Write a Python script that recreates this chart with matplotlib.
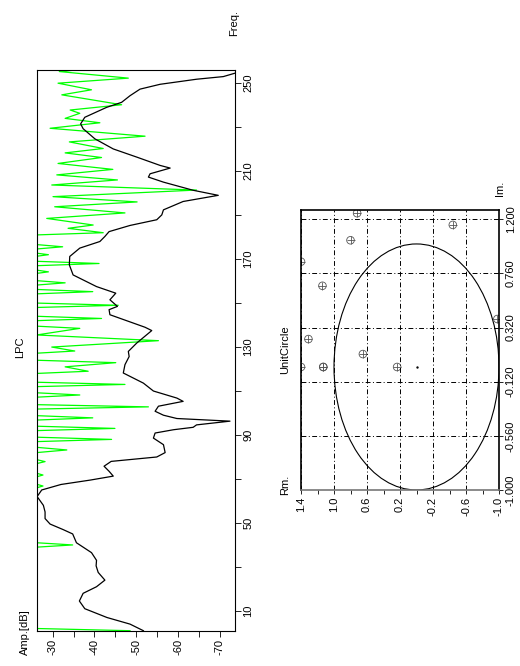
import matplotlib
matplotlib.use("Agg")
import matplotlib.pyplot as plt
from matplotlib.patches import Circle
import numpy as np

# LPC envelope (black)
lpc_freq = [1, 4, 7, 11, 14.5, 18, 21, 24, 27.5, 30.5, 33, 36.5, 41, 45, 47, 49.5, 52, 55, 58, 62,
            65, 67.5, 69.5, 71.3, 73.5, 75.8, 78, 80, 82, 85.6, 88.6, 90.9, 92.4, 93.5, 94.6, 96.3,
            97.5, 99, 100.8, 103.1, 105.3, 106.8, 110, 113.6, 118.2, 122, 125.7, 128, 131.8, 137.5,
            139, 144.7, 147, 148.5, 151.5, 154.5, 157.5, 162.8, 167.4, 171.2, 175, 178, 180.3, 182.5,
            185.3, 187.9, 190.1, 192.4, 196.2, 199, 201.3, 205, 207.3, 208.8, 211.4, 212.6, 216.4,
            220.1, 224.7, 229.3, 231.5, 234.5, 239, 241.3, 244.3, 247.3, 249.5, 251.8, 253, 254.5, 256]
lpc_amp = [-51.7, -48.5, -43, -37.7, -36.4, -37.3, -40.5, -42.5, -40.9, -40.4, -40.5, -39.3, -35.7,
           -34.8, -32.5, -29.4, -28.2, -28.2, -27.8, -26.3, -27.4, -32, -39, -44.5, -43.5, -42.3, -44,
           -54.9, -56.9, -56.5, -54.1, -54.5, -58.9, -63.6, -64.4, -72.4, -59.7, -56.5, -54.5, -55.3,
           -61.2, -59.7, -54.1, -51.7, -46.9, -47.3, -48.3, -48.1, -50.1, -53.7, -52.1, -43.7, -43.5,
           -45.5, -43.7, -45.1, -40.5, -34.9, -34, -34.1, -36.5, -41.3, -42.5, -43.5, -48.5, -54.9,
           -56.1, -56.5, -61.2, -69.6, -63.6, -56.5, -52.9, -53.3, -58.1, -55.7, -50.1, -44.5, -40.1,
           -37.3, -36.7, -37.7, -42.9, -46.5, -48.5, -50.9, -55.7, -64.4, -70.8, -73.5, -76]

# FFT spectrum (green), values above the axis top are off scale
spec_freq = [1, 2, 39, 40, 41, 66, 66.8, 67.6, 71, 71.8, 72.6, 77, 77.9, 78.8, 82, 83.2, 84.4,
             87, 88, 89, 92, 93, 94, 96.8, 97.8, 98.8, 101.8, 102.8, 103.8, 107.2, 108.2, 109.2,
             112, 113, 114, 118, 119, 121, 122.9, 124, 127.2, 128.2, 130, 132.9, 135.5, 138.5, 139.5,
             142, 143, 144, 148, 149, 150, 154.2, 155.2, 156.2, 158.2, 159.2, 160.2, 163.5, 164.2, 165,
             167, 168, 169, 171.3, 172, 172.7, 174.6, 175.6, 176.6, 181, 182, 184, 185.5, 188.5, 191,
             193.8, 196, 198.4, 201.4, 203.7, 206, 208.3, 210.8, 213.5, 216.2, 218.3, 220.3, 223.3,
             225.9, 229.5, 232, 234, 236.3, 237.8, 240.2, 244.7, 247, 250, 252.3, 255.3, 256]
spec_amp = [-48.5, -20, -20, -34.8, -20, -20, -27.7, -20, -20, -27.7, -20, -20, -28.2, -20, -20, -33.4, -20,
            -20, -44.1, -20, -20, -44.9, -20, -20, -39.6, -20, -20, -52.9, -20, -20, -36.5, -20,
            -20, -47.3, -20, -20, -38.5, -33, -45.1, -20, -20, -35.3, -29.8, -55.3, -26, -36.5, -20,
            -20, -41.7, -20, -20, -45.7, -20, -20, -39.6, -20, -20, -33, -20, -20, -29, -20,
            -20, -41.1, -20, -20, -29, -20, -20, -32.4, -20, -20, -42.1, -33.7, -39.7, -28.6, -47.3,
            -30.5, -50.2, -30.1, -64.4, -29.8, -45.5, -31, -44.4, -31.3, -41.7, -33, -42.1, -34,
            -52.1, -29.4, -41.3, -33, -36.5, -34.2, -46.5, -32.2, -39.3, -31.3, -48.1, -31.6, -35.7]

freq_ticks = [10, 50, 90, 130, 170, 210, 250]
amp_ticks = [-30, -40, -50, -60, -70]

# roots in the unit circle plot
root_rm = [0.72, -0.44, 0.80, 1.40, 1.14, 1.31, 0.65, -0.98, 1.40, 1.13, 1.13, 0.235]
root_im = [1.25, 1.155, 1.03, 0.856, 0.66, 0.227, 0.105, 0.39, 0.0, 0.0, 0.0, 0.0]
center_rm = [0.0]
center_im = [0.0]
rm_ticks = [1.4, 1.0, 0.6, 0.2, -0.2, -0.6, -1.0]
im_ticks = [-1.0, -0.56, -0.12, 0.32, 0.76, 1.2]

plt.rcParams['font.family'] = ['Liberation Sans', 'DejaVu Sans']
plt.rcParams['font.size'] = 8
plt.rcParams['axes.unicode_minus'] = False

W, H = 520, 666
fig = plt.figure(figsize=(W / 100, H / 100), dpi=100)


def box(l, t, r, b):
    return [l / W, 1 - b / H, (r - l) / W, (b - t) / H]


def ftext(x, y, s, **kw):
    fig.text(x / W, 1 - y / H, s, rotation=90, ha='center', va='center', **kw)


# ---- LPC panel ----
amp_top, amp_bot = -26.2, -73.6
ax = fig.add_axes(box(36.7, 70, 235, 630.7))
ax.plot(np.minimum(spec_amp, amp_top), spec_freq, color='#00ff00', lw=0.9)
ax.plot(lpc_amp, lpc_freq, color='black', lw=0.9)
ax.set_xlim(amp_top, amp_bot)
ax.set_ylim(1, 256)
ax.yaxis.tick_right()
ax.set_yticks(freq_ticks)
ax.set_yticks([30, 70, 110, 150, 190, 230], minor=True)
ax.set_xticks(amp_ticks)
ax.set_xticks([-35, -45, -55, -65], minor=True)
ax.tick_params(which='both', direction='out', length=4, width=0.6, pad=2)
for lab in ax.get_xticklabels():
    lab.set_rotation(90)
for lab in ax.get_yticklabels():
    lab.set_rotation(90)
    lab.set_va('center')
for sp in ax.spines.values():
    sp.set_linewidth(0.8)

ftext(20, 347, 'LPC')
ftext(25, 632, 'Amp.[dB]')
ftext(234, 23, 'Freq.')

# ---- unit circle panel ----
ax2 = fig.add_axes(box(301, 210, 499, 490))
ax2.add_patch(Circle((0, 0), 1, fill=False, color='black', lw=0.8))
ax2.scatter(root_rm, root_im, s=30, marker='o', facecolors='none', edgecolors='#555555', linewidths=0.6)
ax2.scatter(root_rm, root_im, s=30, marker='+', color='#555555', linewidths=0.6)
ax2.scatter(center_rm, center_im, s=0.5, color='black')
ax2.set_xlim(1.4, -1.0)
ax2.set_ylim(-1.0, 1.276)
ax2.set_xticks(rm_ticks)
ax2.set_xticklabels(['%.1f' % v for v in rm_ticks])
ax2.set_xticks([1.2, 0.8, 0.4, 0.0, -0.4, -0.8], minor=True)
ax2.yaxis.tick_right()
ax2.set_yticks(im_ticks)
ax2.set_yticklabels(['%.3f' % v for v in im_ticks])
ax2.grid(True, which='major', color='black', lw=0.7, ls=(0, (5, 2.5, 1, 2.5)))
ax2.tick_params(which='both', direction='out', length=3, width=0.6, pad=2)
for lab in ax2.get_xticklabels():
    lab.set_rotation(90)
for lab in ax2.get_yticklabels():
    lab.set_rotation(90)
    lab.set_va('center')
for sp in ax2.spines.values():
    sp.set_linewidth(1.2)
ax2.spines['bottom'].set_color('#777777')

ftext(285, 350, 'UnitCircle')
ftext(285, 485, 'Rm.')
ftext(500, 188, 'Im.')

fig.savefig('out.png', dpi=100)
